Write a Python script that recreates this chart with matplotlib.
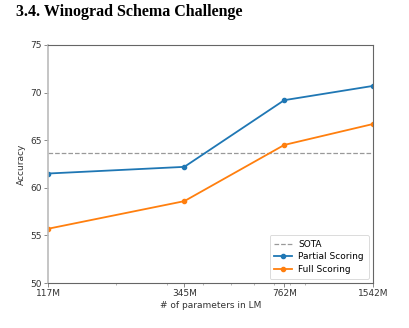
import numpy as np
import matplotlib.pyplot as plt
from matplotlib.ticker import FixedLocator, FixedFormatter, LogLocator, NullFormatter

# model sizes (millions of params) and accuracies
sizes = [117, 345, 762, 1542]
size_labels = ["117M", "345M", "762M", "1542M"]
partial_scoring = [61.5, 62.2, 69.2, 70.7]
full_scoring = [55.7, 58.6, 64.5, 66.7]
sota = 63.7

fig = plt.figure(figsize=(4.1, 3.28), dpi=100)
ax = fig.add_axes([0.117, 0.137, 0.793, 0.726])

fig.text(0.04, 0.962, "3.4. Winograd Schema Challenge", family="Liberation Serif",
         fontsize=11.5, fontweight="bold", va="center", ha="left")

ax.axhline(sota, color="#999999", linestyle="--", linewidth=0.9, label="SOTA")
ax.plot(sizes, partial_scoring, marker="o", markersize=3, linewidth=1.3,
        color="#1f77b4", label="Partial Scoring")
ax.plot(sizes, full_scoring, marker="o", markersize=3, linewidth=1.3,
        color="#ff7f0e", label="Full Scoring")

ax.set_xscale("log")
ax.set_xlim(sizes[0], sizes[-1])
ax.xaxis.set_major_locator(FixedLocator(sizes))
ax.xaxis.set_major_formatter(FixedFormatter(size_labels))
ax.xaxis.set_minor_locator(LogLocator(base=10, subs=np.arange(2, 10)))
ax.xaxis.set_minor_formatter(NullFormatter())
ax.set_ylim(50, 75)
ax.set_yticks(np.arange(50, 76, 5))

ax.set_xlabel("# of parameters in LM", fontsize=6.5, color="#333333", labelpad=2)
ax.set_ylabel("Accuracy", fontsize=6.5, color="#333333", labelpad=3)
ax.tick_params(axis="both", which="major", labelsize=6.5, labelcolor="#333333",
               length=3, width=0.6, color="#777777", pad=1.5)
ax.tick_params(axis="x", which="minor", length=1.5, width=0.5, color="#999999")

for s in ax.spines.values():
    s.set_color("#666666")
    s.set_linewidth(0.8)
ax.spines["left"].set_color("#bbbbbb")
ax.spines["left"].set_linewidth(1.2)

leg = ax.legend(loc="lower right", fontsize=6.5, frameon=True, handlelength=2.0,
                borderpad=0.5, labelspacing=0.4, handletextpad=0.7)
leg.get_frame().set_edgecolor("#cccccc")
leg.get_frame().set_linewidth(0.6)

fig.savefig("out.png", dpi=100)
